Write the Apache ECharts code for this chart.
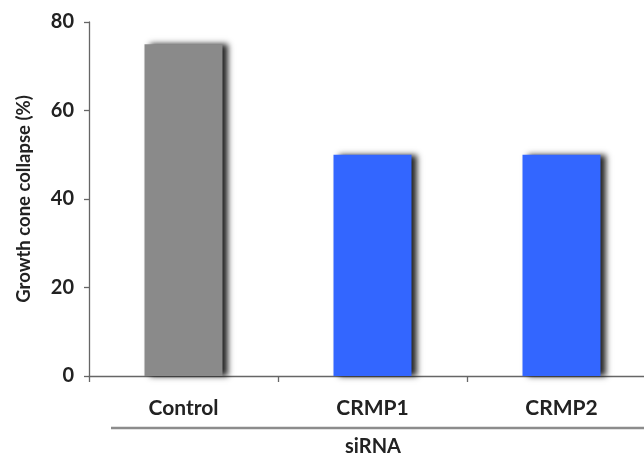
<!DOCTYPE html>
<html>
<head>
<meta charset="utf-8">
<script src="https://cdn.jsdelivr.net/npm/echarts@6/dist/echarts.min.js"></script>
<style>html,body{margin:0;padding:0;background:#fff;}#c{width:644px;height:453px;}</style>
</head>
<body>
<div id="c"></div>
<script>
const categories = ['Control', 'CRMP1', 'CRMP2'];
const values = [75, 50, 50];
const barColors = ['#8a8a8a', '#3366ff', '#3366ff'];
const yTicks = [0, 20, 40, 60, 80];
const yAxisTitle = 'Growth cone collapse (%)';
const groupLabel = 'siRNA';

const FONT = 'Lato';
const chart = echarts.init(document.getElementById('c'), null, {renderer: 'canvas'});
chart.setOption({
  animation: false,
  backgroundColor: '#ffffff',
  grid: {left: 89, top: 22, width: 567, height: 354, containLabel: false, outerBoundsMode: 'none'},
  xAxis: {
    type: 'category',
    data: categories,
    axisLine: {lineStyle: {color: '#666', width: 1.3}},
    axisTick: {show: true, length: 6, alignWithLabel: false, lineStyle: {color: '#666', width: 1.3}},
    axisLabel: {color: '#222', fontFamily: FONT, fontWeight: 'bold', fontSize: 21, margin: 22}
  },
  yAxis: {
    type: 'value',
    min: yTicks[0],
    max: yTicks[yTicks.length - 1],
    interval: yTicks[1] - yTicks[0],
    splitLine: {show: false},
    axisLine: {show: true, lineStyle: {color: '#666', width: 1.3}},
    axisTick: {show: true, length: 5, lineStyle: {color: '#666', width: 1.3}},
    axisLabel: {color: '#222', fontFamily: FONT, fontWeight: 'bold', fontSize: 20, margin: 15}
  },
  graphic: [
    {type: 'text', x: 24, y: 199, rotation: Math.PI / 2,
     style: {text: yAxisTitle, fill: '#222', font: 'bold 18.5px ' + FONT, align: 'center', verticalAlign: 'middle'}},
    {type: 'line', shape: {x1: 111, y1: 428, x2: 644, y2: 428},
     style: {stroke: '#8c8c8c', lineWidth: 2.5}},
    {type: 'text', x: 373, y: 447,
     style: {text: groupLabel, fill: '#222', font: 'bold 20px ' + FONT, align: 'center', verticalAlign: 'middle'}}
  ],
  series: [{
    type: 'bar',
    barWidth: 78,
    data: values.map((v, i) => ({value: v, itemStyle: {color: barColors[i]}})),
    itemStyle: {shadowColor: 'rgba(0,0,0,0.85)', shadowBlur: 6, shadowOffsetX: 5, shadowOffsetY: 0}
  }]
});
</script>
</body>
</html>
